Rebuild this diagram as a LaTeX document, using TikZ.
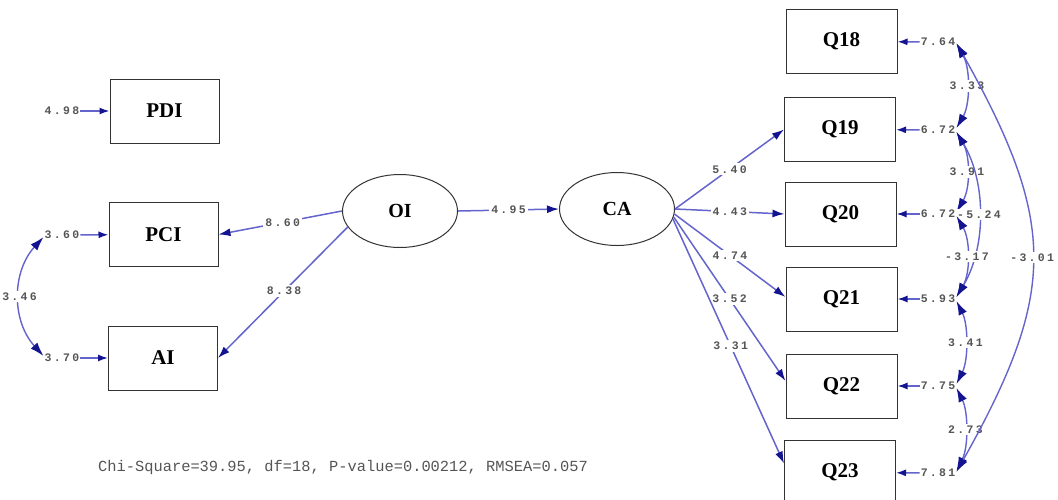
\documentclass[tikz,border=0pt]{standalone}
\usepackage{fontspec}
\setmainfont{Liberation Serif}
\newfontfamily\numfont[LetterSpace=20]{Liberation Mono}
\newfontfamily\fitfont{Liberation Mono}
\usetikzlibrary{arrows.meta,shapes.geometric}
\definecolor{lineblue}{RGB}{100,100,205}
\definecolor{tipblue}{RGB}{20,20,145}
\definecolor{numgray}{RGB}{85,85,85}
\begin{document}
\begin{tikzpicture}[x=1pt,y=-1pt,
  box/.style={draw=black!80, line width=1pt, minimum width=109pt, minimum height=64pt, inner sep=0pt,
    font=\fontsize{21}{21}\selectfont\bfseries},
  latent/.style={ellipse, draw=black!80, line width=1pt, minimum width=115pt, minimum height=73pt, inner sep=0pt,
    font=\fontsize{20}{20}\selectfont\bfseries},
  num/.style={font=\numfont\bfseries\fontsize{11.5}{12}\selectfont, text=numgray, inner sep=1pt},
  lab/.style={num, fill=white, inner sep=2pt},
  pathline/.style={draw=lineblue, line width=1.5pt, -{Latex[length=12pt,width=8pt,color=tipblue]}},
  errline/.style={draw=lineblue, line width=1.5pt, -{Latex[length=10pt,width=7pt,color=tipblue]}},
  covline/.style={draw=lineblue, line width=1.4pt, {Latex[length=14pt,width=9pt,color=tipblue]}-{Latex[length=14pt,width=9pt,color=tipblue]}}]
\useasboundingbox (0,0) rectangle (1058,499);

% observed variables left
\node[box] (PDI) at (164.5,111) {PDI};
\node[box] (PCI) at (163.5,234.5) {PCI};
\node[box] (AI) at (163,358) {AI};
% latent
\node[latent] (OI) at (400,211) {OI};
\node[latent] (CA) at (617,209) {CA};
% observed variables right
\node[box, minimum width=111pt] (Q18) at (841.5,41.5) {Q18};
\node[box, minimum width=111pt] (Q19) at (840,129.5) {Q19};
\node[box, minimum width=111pt] (Q20) at (840.5,214) {Q20};
\node[box, minimum width=111pt] (Q21) at (841.5,299) {Q21};
\node[box, minimum width=111pt] (Q22) at (841.5,386) {Q22};
\node[box, minimum width=111pt] (Q23) at (840,472.5) {Q23};

% error terms
\node[num] (ePDI) at (62,111) {4.98};
\node[num] (ePCI) at (62,235) {3.60};
\node[num] (eAI) at (62,358) {3.70};
\node[num] (e18) at (938,42) {7.64};
\node[num] (e19) at (938,130) {6.72};
\node[num] (e20) at (938,214) {6.72};
\node[num] (e21) at (938,299) {5.93};
\node[num] (e22) at (938,386) {7.75};
\node[num] (e23) at (938,473) {7.81};

\draw[errline] (ePDI) -- (PDI);
\draw[errline] (ePCI) -- (PCI);
\draw[errline] (eAI) -- (AI);
\draw[errline] (e18) -- (Q18);
\draw[errline] (e19) -- (Q19);
\draw[errline] (e20) -- (Q20);
\draw[errline] (e21) -- (Q21);
\draw[errline] (e22) -- (Q22);
\draw[errline] (e23) -- (Q23);

% structural paths
\draw[pathline] (OI.west) -- node[lab, pos=0.48] {8.60} (PCI.east);
\draw[pathline] (OI.197) -- node[lab, pos=0.49] {8.38} (AI.east);
\draw[pathline] (OI.east) -- node[lab, pos=0.5] {4.95} (CA.west);
\draw[pathline] (CA.east) -- node[lab, pos=0.5] {5.40} (Q19.west);
\draw[pathline] (CA.east) -- node[lab, pos=0.5] {4.43} (Q20.west);
\draw[pathline] (CA.355) -- node[lab, pos=0.5] {4.74} ([yshift=2pt]Q21.west);
\draw[pathline] (CA.352) -- node[lab, pos=0.5] {3.52} ([yshift=5pt]Q22.west);
\draw[pathline] (CA.350) -- node[lab, pos=0.52] {3.31} ([yshift=9pt]Q23.west);

% covariances
\draw[covline] ([yshift=-2pt]ePCI.west) .. controls +(-32,35) and +(-32,-35) .. node[lab, pos=0.5] {3.46} ([yshift=2pt]eAI.west);
\draw[covline] ([yshift=-2pt]e18.east) .. controls +(14,24) and +(14,-24) .. node[lab, pos=0.5] {3.33} ([yshift=2pt]e19.east);
\draw[covline] ([yshift=-2pt]e19.east) .. controls +(14,24) and +(14,-24) .. node[lab, pos=0.5] {3.91} ([yshift=2pt]e20.east);
\draw[covline] ([yshift=-2pt]e19.east) .. controls +(30,50) and +(30,-50) .. node[lab, pos=0.5] {-5.24} ([yshift=2pt]e21.east);
\draw[covline] ([yshift=-2pt]e20.east) .. controls +(14,24) and +(14,-24) .. node[lab, pos=0.5] {-3.17} ([yshift=2pt]e21.east);
\draw[covline] ([yshift=-2pt]e21.east) .. controls +(12,24) and +(12,-24) .. node[lab, pos=0.5] {3.41} ([yshift=2pt]e22.east);
\draw[covline] ([yshift=-2pt]e22.east) .. controls +(12,24) and +(12,-24) .. node[lab, pos=0.5] {2.73} ([yshift=2pt]e23.east);
\draw[covline] ([yshift=-1pt]e18.east) .. controls +(101,180) and +(101,-180) .. node[lab, pos=0.5] {-3.01} ([yshift=1pt]e23.east);

% fit statistics
\node[font=\fitfont\fontsize{15.4}{16}\selectfont, text=numgray, inner sep=0pt] (fit) at (343,468) {Chi-Square=39.95, df=18, P-value=0.00212, RMSEA=0.057};
\end{tikzpicture}
\end{document}
